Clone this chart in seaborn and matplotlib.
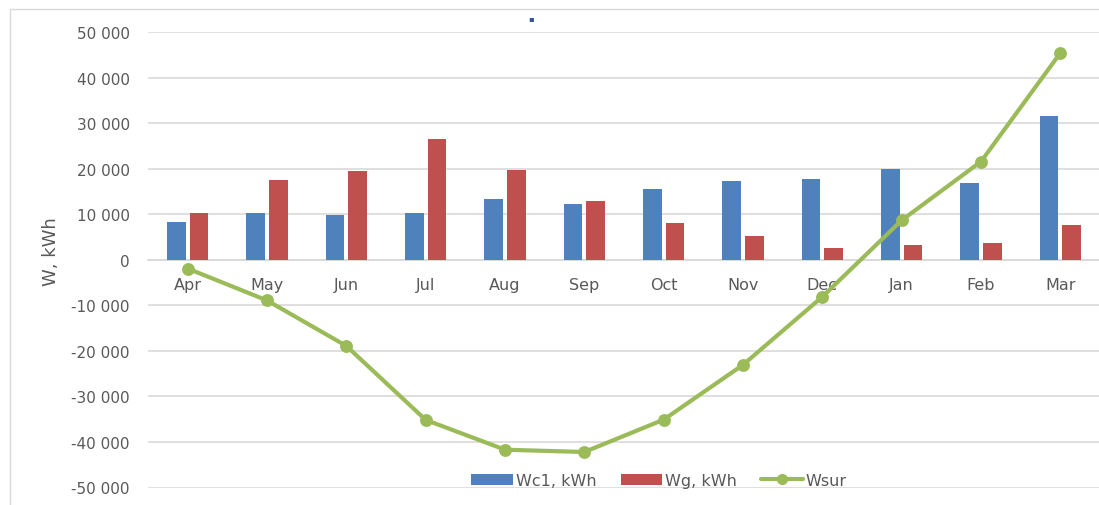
import matplotlib
matplotlib.use("Agg")
import matplotlib.pyplot as plt
import seaborn as sns
import pandas as pd
from matplotlib.patches import Patch, Rectangle
from matplotlib.lines import Line2D
from matplotlib.ticker import FuncFormatter

months = ["Apr", "May", "Jun", "Jul", "Aug", "Sep", "Oct", "Nov", "Dec", "Jan", "Feb", "Mar"]
wc1 = [8400, 10400, 9800, 10200, 13400, 12250, 15600, 17250, 17750, 20000, 16900, 31650]
wg = [10400, 17450, 19500, 26500, 19700, 12900, 8150, 5150, 2650, 3300, 3750, 7650]
wsur = [-1900, -8900, -18900, -35150, -41700, -42200, -35100, -23050, -8100, 8700, 21600, 45450]
series_names = ["Wc1, kWh", "Wg, kWh", "Wsur"]
y_ticks = list(range(-50000, 50001, 10000))
ylabel = "W, kWh"

BLUE = "#4F81BD"
RED = "#C0504D"
GREEN = "#9BBB59"
GRID = "#D9D9D9"
TXT = "#595959"

sns.set_theme(style="white")
plt.rcParams["font.family"] = ["DejaVu Sans"]

df = pd.DataFrame({
    "month": months * 2,
    "value": wc1 + wg,
    "series": [series_names[0]] * len(months) + [series_names[1]] * len(months),
})

fig = plt.figure(figsize=(10.99, 5.06), dpi=100)
ax = fig.add_axes([148 / 1099, 1 - 488.5 / 506, 952 / 1099, 455.2 / 506])

sns.barplot(data=df, x="month", y="value", hue="series", order=months,
            palette=[BLUE, RED], width=0.567, gap=0.17, dodge=True,
            saturation=1, errorbar=None, legend=False, ax=ax, zorder=3,
            linewidth=0)
sns.pointplot(x=months, y=wsur, order=months, color=GREEN, markers="o",
              markersize=7, linewidth=3, errorbar=None, ax=ax, zorder=4)

ax.set_xlim(-0.5, len(months) - 0.5)
ax.set_ylim(-50000, 50000)
ax.set_yticks(y_ticks)
ax.yaxis.set_major_formatter(FuncFormatter(lambda v, p: f"{int(v):,}".replace(",", " ")))
ax.grid(axis="y", color=GRID, linewidth=1.2, zorder=0)
ax.grid(axis="x", visible=False)
ax.set_axisbelow(True)
for s in ["top", "right", "left"]:
    ax.spines[s].set_visible(False)
ax.spines["bottom"].set_position(("data", 0))
ax.spines["bottom"].set_color(GRID)
ax.spines["bottom"].set_linewidth(1.2)
ax.spines["bottom"].set_zorder(1)
ax.tick_params(axis="x", length=0, pad=12, labelsize=11.5, labelcolor=TXT)
ax.tick_params(axis="y", length=0, pad=13, labelsize=11, labelcolor=TXT)
ax.set_xlabel("")
ax.set_ylabel(ylabel, fontsize=13, color=TXT)
ax.yaxis.set_label_coords(-0.092, 0.52)

handles = [
    Patch(facecolor=BLUE, edgecolor="none", label=series_names[0]),
    Patch(facecolor=RED, edgecolor="none", label=series_names[1]),
    Line2D([0], [0], color=GREEN, lw=3, marker="o", markersize=7, label=series_names[2]),
]
leg = ax.legend(handles=handles, loc="center", bbox_to_anchor=(0.537, 0.016),
                ncol=3, frameon=False, fontsize=11.5, handlelength=2.6,
                handletextpad=0.2, columnspacing=1.5, borderpad=0)
for t in leg.get_texts():
    t.set_color(TXT)

fig.patches.append(Rectangle((10 / 1099, -0.1), 1.2, 1.1 - 10 / 506,
                             transform=fig.transFigure, fill=False,
                             edgecolor=GRID, linewidth=1.0))
fig.text(531 / 1099, 1 - 19 / 506, "\u25aa", color="#2F5597", fontsize=6,
         ha="center", va="center")

fig.savefig("out.png", dpi=100)
